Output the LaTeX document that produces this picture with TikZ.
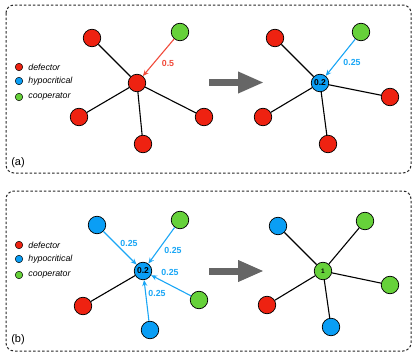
\documentclass[tikz,border=0pt]{standalone}
\usepackage{fontspec}
\setmainfont{Liberation Sans}
\usetikzlibrary{arrows.meta}
\definecolor{defred}{HTML}{EE2211}
\definecolor{hypblue}{HTML}{0A9EF5}
\definecolor{coopgreen}{HTML}{66D13A}
\definecolor{arrred}{HTML}{F04A3A}
\definecolor{arrblue}{HTML}{1AA6F5}
\definecolor{bigarrow}{HTML}{666666}
\begin{document}
\begin{tikzpicture}[x=1pt, y=-1pt, line width=1.1pt,
  agent/.style={circle, draw=black, line width=0.7pt, minimum size=17.5pt, inner sep=0pt, font=\bfseries\fontsize{8.5}{8.5}\selectfont},
  defector/.style={agent, fill=defred},
  hypo/.style={agent, fill=hypblue},
  coop/.style={agent, fill=coopgreen},
  key/.style={circle, draw=black, line width=0.5pt, minimum size=7.5pt, inner sep=0pt},
  keytext/.style={anchor=west, xshift=1.5pt, font=\itshape\fontsize{8.8}{9}\selectfont},
  panel/.style={draw=black!85, dash pattern=on 2.5pt off 2pt, rounded corners=8pt, line width=1pt},
  weight/.style={font=\bfseries\fontsize{8.8}{9}\selectfont},
  push/.style={line width=1.1pt, -{Stealth[length=6pt,width=5pt]}},
  transition/.style={draw=bigarrow, line width=7pt, -{Triangle[length=26pt,width=20pt]}}]

  \useasboundingbox (0,0) rectangle (416,356);

  % panel (a)
  \draw[panel] (6,5) rectangle (411,173);
  \node[key, fill=defred] (kda) at (19,67) {};    \node[keytext] at (kda.east) {defector};
  \node[key, fill=hypblue] (kha) at (19,81) {};   \node[keytext] at (kha.east) {hypocritical};
  \node[key, fill=coopgreen] (kca) at (19,97) {}; \node[keytext] at (kca.east) {cooperator};
  \node[font=\fontsize{11}{11}\selectfont] (taga) at (18,163) {(a)};

  \node[defector] (ca) at (137,83) {};
  \node[defector] (a1) at (92,38) {};
  \node[coop] (a2) at (180,32) {};
  \node[defector] (a3) at (79,117) {};
  \node[defector] (a4) at (143,144) {};
  \node[defector] (a5) at (204,117) {};
  \foreach \n in {a1,a3,a4,a5} \draw (ca) -- (\n);
  \draw[push, arrred] (a2) -- (ca);
  \node[weight, text=arrred] (wa) at (168,63) {0.5};

  \coordinate (sa0) at (209,82.5); \coordinate (sa1) at (264,82.5);
  \draw[transition] (sa0) -- (sa1);

  \node[hypo] (cb) at (320,83) {0.2};
  \node[defector] (b1) at (275,38) {};
  \node[coop] (b2) at (361,32) {};
  \node[defector] (b3) at (390,97) {};
  \node[defector] (b4) at (263,117) {};
  \node[defector] (b5) at (328,144) {};
  \foreach \n in {b1,b3,b4,b5} \draw (cb) -- (\n);
  \draw[push, arrblue] (b2) -- (cb);
  \node[weight, text=arrblue] (wb) at (352,62) {0.25};

  % panel (b)
  \draw[panel] (6,191) rectangle (411,351);
  \node[key, fill=defred] (kdb) at (19,245) {};    \node[keytext] at (kdb.east) {defector};
  \node[key, fill=hypblue] (khb) at (19,259) {};   \node[keytext] at (khb.east) {hypocritical};
  \node[key, fill=coopgreen] (kcb) at (19,275) {}; \node[keytext] at (kcb.east) {cooperator};
  \node[font=\fontsize{11}{11}\selectfont] (tagb) at (18,340) {(b)};

  \node[hypo] (cc) at (143,271) {0.2};
  \node[hypo] (c1) at (97,225) {};
  \node[coop] (c2) at (180,220) {};
  \node[coop] (c3) at (199,300) {};
  \node[hypo] (c4) at (150,330) {};
  \node[defector] (c5) at (83,306) {};
  \draw (cc) -- (c5);
  \foreach \n in {c1,c2,c3,c4} \draw[push, arrblue] (\n) -- (cc);
  \node[weight, text=arrblue] (wc1) at (129,243) {0.25};
  \node[weight, text=arrblue] (wc2) at (173,250) {0.25};
  \node[weight, text=arrblue] (wc3) at (170,272) {0.25};
  \node[weight, text=arrblue] (wc4) at (157,293) {0.25};

  \coordinate (sb0) at (209,271); \coordinate (sb1) at (264,271);
  \draw[transition] (sb0) -- (sb1);

  \node[coop, font=\bfseries\fontsize{6.5}{7}\selectfont] (cd) at (323,271) {1};
  \node[hypo] (d1) at (278,226) {};
  \node[coop] (d2) at (365,221) {};
  \node[coop] (d3) at (390,285) {};
  \node[defector] (d4) at (267,305) {};
  \node[hypo] (d5) at (331,327) {};
  \foreach \n in {d1,d2,d3,d4,d5} \draw (cd) -- (\n);
\end{tikzpicture}
\end{document}
